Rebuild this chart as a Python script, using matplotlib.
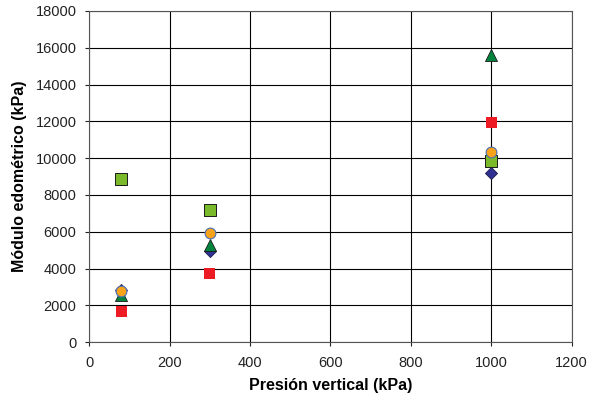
import matplotlib
matplotlib.use("Agg")
import matplotlib.pyplot as plt

plt.rcParams['font.family'] = ['Liberation Sans', 'DejaVu Sans']

presion = [80, 300, 1000]
serie_rombo = [2850, 4980, 9200]
serie_cuadro_rojo = [1650, 3750, 11950]
serie_triangulo = [2550, 5300, 15600]
serie_cuadro_verde = [8850, 7200, 9850]
serie_circulo = [2780, 5950, 10320]

fig = plt.figure(figsize=(5.9, 4.04), dpi=100)
ax = fig.add_axes([0.151, 0.153, 0.818, 0.82])

ax.scatter(presion, serie_rombo, marker='D', s=38, color='#2E3192', edgecolors='#1a1a4a', linewidths=0.6, zorder=3)
ax.scatter(presion, serie_cuadro_rojo, marker='s', s=60, color='#ED1C24', edgecolors='none', zorder=3)
ax.scatter(presion, serie_triangulo, marker='^', s=75, color='#00843D', edgecolors='#1a1a1a', linewidths=0.6, zorder=3)
ax.scatter(presion, serie_cuadro_verde, marker='s', s=70, color='#7AB929', edgecolors='#1a1a1a', linewidths=0.7, zorder=3)
ax.scatter(presion, serie_circulo, marker='o', s=60, color='#F7A21B', edgecolors='#4A6FB5', linewidths=0.8, zorder=4)

ax.set_xlim(0, 1200)
ax.set_ylim(0, 18000)
ax.set_xticks(range(0, 1201, 200))
ax.set_yticks(range(0, 18001, 2000))
ax.grid(True, color='black', linewidth=0.8)
ax.set_axisbelow(True)
for s in ax.spines.values():
    s.set_color('#555555')
    s.set_linewidth(0.8)
ax.tick_params(labelsize=10.5, direction='out', length=3, colors='#222222')
ax.tick_params(axis='x', pad=7)
ax.tick_params(axis='y', pad=6)

ax.set_xlabel('Presión vertical (kPa)', fontsize=11.5, fontweight='bold', labelpad=6)
ax.set_ylabel('Módulo edométrico (kPa)', fontsize=11.5, fontweight='bold', labelpad=6)

fig.savefig('out.png', dpi=100)
